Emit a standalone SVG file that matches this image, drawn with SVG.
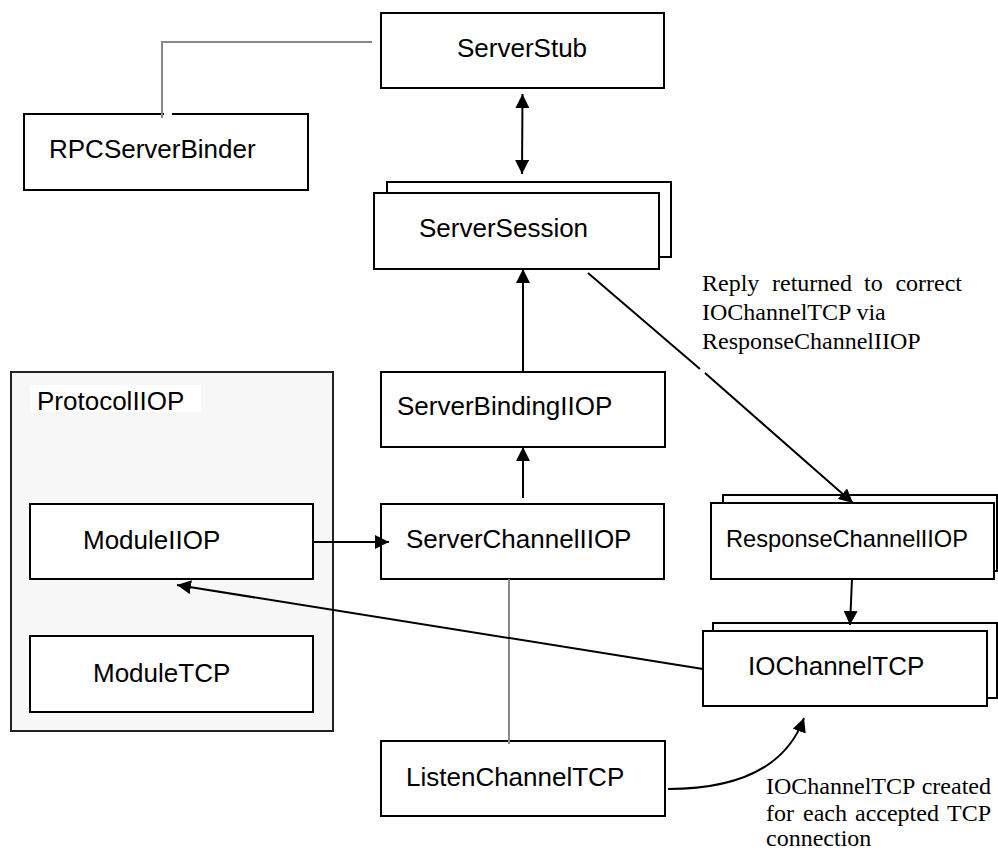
<svg xmlns="http://www.w3.org/2000/svg" width="998" height="856" viewBox="0 0 998 856">
<style>
.box{fill:#fff;stroke:#000;stroke-width:2}
.cont{fill:#f7f7f7;stroke:#222;stroke-width:2}
.lbl{font-family:"Liberation Sans",Arial,sans-serif;font-size:26px;fill:#000}
.note{font-family:"Liberation Serif","Times New Roman",serif;font-size:24px;fill:#000}
.conn{stroke:#000;stroke-width:2;fill:none}
.gray{stroke:#888;stroke-width:2;fill:none}
</style>
<defs>
<marker id="ah" viewBox="0 0 14 14" refX="14" refY="7" markerWidth="14" markerHeight="14" markerUnits="userSpaceOnUse" orient="auto-start-reverse">
<path d="M0,0 L14,7 L0,14 Z" fill="#000"/>
</marker>
</defs>
<rect width="998" height="856" fill="#fff"/>

<g id="ProtocolIIOP">
<rect class="cont" x="11" y="372" width="322" height="359"/>
<rect x="30" y="385" width="171" height="27" fill="#fff"/>
<text class="lbl" x="37" y="410">ProtocolIIOP</text>
</g>

<g id="ServerStub">
<rect class="box" x="381" y="13" width="283" height="75"/>
<text class="lbl" x="457" y="57">ServerStub</text>
</g>

<g id="RPCServerBinder">
<rect class="box" x="24" y="114" width="284" height="76"/>
<line x1="164" y1="114" x2="172" y2="114" stroke="#fff" stroke-width="3"/>
<text class="lbl" x="49" y="158">RPCServerBinder</text>
</g>

<g id="ServerSession">
<rect class="box" x="387" y="182" width="284" height="75"/>
<rect class="box" x="374" y="193" width="285" height="76"/>
<text class="lbl" x="419" y="237">ServerSession</text>
</g>

<g id="ServerBindingIIOP">
<rect class="box" x="381" y="372" width="284" height="75"/>
<text class="lbl" x="397" y="415">ServerBindingIIOP</text>
</g>

<g id="ServerChannelIIOP">
<rect class="box" x="381" y="504" width="283" height="75"/>
<text class="lbl" x="406" y="548">ServerChannelIIOP</text>
</g>

<g id="ModuleIIOP">
<rect class="box" x="30" y="504" width="283" height="75"/>
<text class="lbl" x="83" y="549">ModuleIIOP</text>
</g>

<g id="ModuleTCP">
<rect class="box" x="30" y="636" width="283" height="76"/>
<text class="lbl" x="93" y="682">ModuleTCP</text>
</g>

<g id="ResponseChannelIIOP">
<rect class="box" x="723" y="495" width="274" height="76"/>
<rect class="box" x="711" y="503" width="283" height="76"/>
<text class="lbl" x="726" y="547" style="font-size:24px" textLength="242" lengthAdjust="spacingAndGlyphs">ResponseChannelIIOP</text>
</g>

<g id="IOChannelTCP">
<rect class="box" x="713" y="623" width="284" height="75"/>
<rect class="box" x="703" y="631" width="284" height="75"/>
<text class="lbl" x="748" y="675">IOChannelTCP</text>
</g>

<g id="ListenChannelTCP">
<rect class="box" x="381" y="741" width="284" height="75"/>
<text class="lbl" x="406" y="786">ListenChannelTCP</text>
</g>

<g id="connectors">
<polyline class="gray" points="372,42 162,42 162,118"/>
<line class="gray" x1="509" y1="579" x2="509" y2="744"/>
<line class="conn" x1="522.5" y1="94" x2="522" y2="174" marker-start="url(#ah)" marker-end="url(#ah)"/>
<line class="conn" x1="523" y1="372" x2="523" y2="269" marker-end="url(#ah)"/>
<line class="conn" x1="523" y1="498" x2="523" y2="447" marker-end="url(#ah)"/>
<line class="conn" x1="313" y1="542" x2="389" y2="542" marker-end="url(#ah)"/>
<line class="conn" x1="588" y1="273" x2="700" y2="369"/>
<line class="conn" x1="705" y1="373" x2="853" y2="503" marker-end="url(#ah)"/>
<line class="conn" x1="852" y1="579" x2="850" y2="625" marker-end="url(#ah)"/>
<line class="conn" x1="703" y1="669" x2="177" y2="585" marker-end="url(#ah)"/>
<path class="conn" d="M668,789 C735,789 785,770 804,718" marker-end="url(#ah)"/>
</g>

<g id="notes">
<text class="note" y="291"><tspan x="702">Reply</tspan><tspan x="772">returned</tspan><tspan x="864">to</tspan><tspan x="962" text-anchor="end">correct</tspan></text>
<text class="note" x="702" y="320">IOChannelTCP via</text>
<text class="note" x="702" y="349">ResponseChannelIIOP</text>
<text class="note" y="794"><tspan x="766">IOChannelTCP</tspan><tspan x="991" text-anchor="end">created</tspan></text>
<text class="note" y="821"><tspan x="766">for</tspan><tspan x="803">each</tspan><tspan x="855">accepted</tspan><tspan x="991" text-anchor="end">TCP</tspan></text>
<text class="note" x="766" y="846">connection</text>
</g>
</svg>
